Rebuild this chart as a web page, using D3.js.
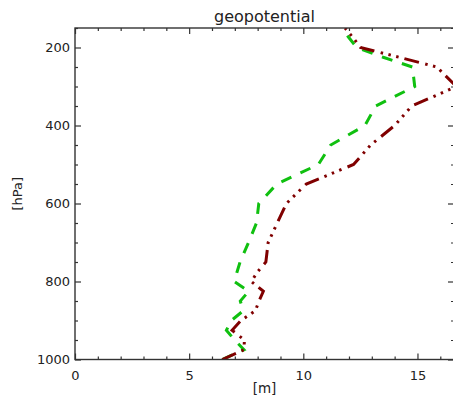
<!DOCTYPE html>
<html>
<head>
<meta charset="utf-8">
<script src="https://cdn.jsdelivr.net/npm/d3@7"></script>
<style>
  html, body { margin: 0; padding: 0; background: #fff; }
  svg { display: block; }
  text { font-family: "DejaVu Sans", sans-serif; fill: #222; }
</style>
</head>
<body>
<svg id="chart" width="453" height="401"></svg>
<script>
// ---- data ----
const pressure = [1000, 975, 950, 925, 900, 875, 850, 825, 800, 775, 750, 700, 650, 600, 550, 500, 450, 400, 350, 300, 250, 225, 200, 175, 150];
const seriesRed = [6.45, 7.40, 7.42, 6.88, 7.27, 7.90, 8.06, 8.25, 7.72, 8.00, 8.36, 8.46, 8.86, 9.26, 10.13, 12.20, 12.95, 14.00, 14.75, 16.70, 15.85, 14.20, 12.50, 12.18, 11.83];
const seriesGreen = [6.45, 7.40, 6.99, 6.63, 6.85, 7.37, 7.24, 7.61, 6.97, 7.10, 7.23, 7.60, 7.95, 8.05, 8.84, 10.66, 11.20, 12.70, 13.17, 14.88, 14.78, 13.50, 12.34, 12.00, 11.67];
const xMajorTicks = [0, 5, 10, 15];
const xMinorTicks = [1, 2, 3, 4, 6, 7, 8, 9, 11, 12, 13, 14, 16];
const yMajorTicks = [200, 400, 600, 800, 1000];
const yMinorTicks = [150, 250, 300, 350, 450, 500, 550, 650, 700, 750, 850, 900, 950];
const titleText = "geopotential";
const xLabel = "[m]";
const yLabel = "[hPa]";

(function () {
// ---- layout ----
const pL = 75, pR = 454, pT = 28, pB = 359.5;
const svg = d3.select("#chart");

const x = d3.scaleLinear().domain([0, 16.6]).range([pL, pR]);
const y = d3.scaleLinear().domain([150, 1000]).range([pT, pB]);

svg.append("defs").append("clipPath").attr("id", "plotclip")
  .append("rect").attr("x", pL).attr("y", pT)
  .attr("width", pR - pL).attr("height", pB - pT);

// ---- series ----
const line = (vals) => d3.line()
  .x((d, i) => x(vals[i]))
  .y(d => y(d))(pressure);

const g = svg.append("g").attr("clip-path", "url(#plotclip)");
g.append("path").attr("d", line(seriesGreen))
  .attr("fill", "none").attr("stroke", "#10c010").attr("stroke-width", 3)
  .attr("stroke-dasharray", "11,10");
g.append("path").attr("d", line(seriesRed))
  .attr("fill", "none").attr("stroke", "#800000").attr("stroke-width", 3)
  .attr("stroke-dasharray", "15,6,2.5,5.5,2.5,5.5,2.5,6.5");

// ---- axes ----
const axisColor = "#333";
function styleAxis(sel) {
  sel.select(".domain").remove();
  sel.selectAll(".tick line").attr("stroke", axisColor).attr("stroke-width", 1.2);
  sel.selectAll(".tick text").attr("font-size", 13).attr("fill", "#222")
     .attr("font-family", "DejaVu Sans, sans-serif");
}

svg.append("g").attr("transform", `translate(0,${pB})`)
  .call(d3.axisBottom(x).tickValues(xMajorTicks).tickSize(-6).tickPadding(11).tickFormat(d3.format("d")))
  .call(styleAxis);
svg.append("g").attr("transform", `translate(0,${pB})`)
  .call(d3.axisBottom(x).tickValues(xMinorTicks).tickSize(-3).tickFormat(""))
  .call(styleAxis);
svg.append("g").attr("transform", `translate(0,${pT})`)
  .call(d3.axisTop(x).tickValues(xMajorTicks).tickSize(-6).tickFormat(""))
  .call(styleAxis);
svg.append("g").attr("transform", `translate(0,${pT})`)
  .call(d3.axisTop(x).tickValues(xMinorTicks).tickSize(-3).tickFormat(""))
  .call(styleAxis);

svg.append("g").attr("transform", `translate(${pL},0)`)
  .call(d3.axisLeft(y).tickValues(yMajorTicks).tickSize(-6).tickPadding(5).tickFormat(d3.format("d")))
  .call(styleAxis);
svg.append("g").attr("transform", `translate(${pL},0)`)
  .call(d3.axisLeft(y).tickValues(yMinorTicks).tickSize(-3).tickFormat(""))
  .call(styleAxis);
svg.append("g").attr("transform", `translate(${pR},0)`)
  .call(d3.axisRight(y).tickValues(yMajorTicks).tickSize(-6).tickFormat(""))
  .call(styleAxis);
svg.append("g").attr("transform", `translate(${pR},0)`)
  .call(d3.axisRight(y).tickValues(yMinorTicks).tickSize(-3).tickFormat(""))
  .call(styleAxis);

// frame
svg.append("rect").attr("x", pL).attr("y", pT)
  .attr("width", pR - pL).attr("height", pB - pT)
  .attr("fill", "none").attr("stroke", axisColor).attr("stroke-width", 1.4);

// ---- titles ----
svg.append("text").attr("x", (pL + pR) / 2).attr("y", 21.5)
  .attr("text-anchor", "middle").attr("font-size", 16).text(titleText);
svg.append("text").attr("x", (pL + pR) / 2).attr("y", 393)
  .attr("text-anchor", "middle").attr("font-size", 13.5).text(xLabel);
svg.append("text").attr("transform", `translate(22,${(pT + pB) / 2}) rotate(-90)`)
  .attr("text-anchor", "middle").attr("font-size", 13).text(yLabel);
})();
</script>
</body>
</html>
